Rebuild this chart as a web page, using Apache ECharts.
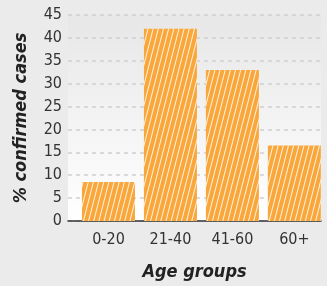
<!DOCTYPE html>
<html>
<head>
<meta charset="utf-8">
<script src="https://cdn.jsdelivr.net/npm/echarts@6/dist/echarts.min.js"></script>
<style>
html, body { margin: 0; padding: 0; background: #ebebeb; }
#chart { width: 327px; height: 286px; }
</style>
</head>
<body>
<div id="chart"></div>
<script>
// data
const ageGroups = ['0-20', '21-40', '41-60', '60+'];
const confirmedPct = [8.5, 42, 33, 16.5];
const yTicks = [0, 5, 10, 15, 20, 25, 30, 35, 40, 45];

const chart = echarts.init(document.getElementById('chart'));

const labelFont = '"DejaVu Sans Condensed", "Open Sans", sans-serif';

const option = {
    backgroundColor: '#ebebeb',
    animation: false,
    grid: {
        left: 68,
        right: 6,
        top: 15,
        bottom: 64,
        show: true,
        borderWidth: 0,
        backgroundColor: new echarts.graphic.LinearGradient(0, 0, 0, 1, [
            { offset: 0, color: '#e7e7e7' },
            { offset: 1, color: '#ffffff' }
        ])
    },
    xAxis: {
        type: 'value',
        min: -0.653,
        max: 3.43,
        name: 'Age groups',
        nameLocation: 'middle',
        nameGap: 42,
        nameTextStyle: {
            fontFamily: labelFont,
            fontWeight: 'bold',
            fontStyle: 'italic',
            fontSize: 18,
            color: '#222'
        },
        splitLine: { show: false },
        axisTick: { show: false },
        axisLine: { show: true, lineStyle: { color: '#333', width: 1.5 } },
        axisLabel: {
            customValues: [0, 1, 2, 3],
            margin: 11,
            fontFamily: labelFont,
            fontSize: 16,
            color: '#333',
            formatter: function (v) {
                return ageGroups[Math.round(v)] || '';
            }
        }
    },
    yAxis: {
        type: 'value',
        min: yTicks[0],
        max: yTicks[yTicks.length - 1],
        interval: 5,
        name: '% confirmed cases',
        nameLocation: 'middle',
        nameGap: 38,
        nameTextStyle: {
            fontFamily: labelFont,
            fontWeight: 'bold',
            fontStyle: 'italic',
            fontSize: 18,
            color: '#222'
        },
        axisLine: { show: false },
        axisTick: { show: false },
        axisLabel: {
            margin: 6,
            fontFamily: labelFont,
            fontSize: 16,
            color: '#333'
        },
        splitLine: {
            show: true,
            lineStyle: { color: '#d0d0d0', type: [4, 4], width: 1.5 }
        }
    },
    series: [
        {
            type: 'bar',
            barWidth: 53,
            data: confirmedPct.map((v, i) => [i, v]),
            itemStyle: {
                color: '#f9a73b',
                decal: {
                    symbol: 'rect',
                    symbolSize: 1,
                    color: 'rgba(255,255,255,0.85)',
                    dashArrayX: [1, 4],
                    dashArrayY: [4, 0],
                    rotation: 0.25
                }
            }
        }
    ]
};

chart.setOption(option);
window.addEventListener('resize', () => chart.resize());
</script>
</body>
</html>
